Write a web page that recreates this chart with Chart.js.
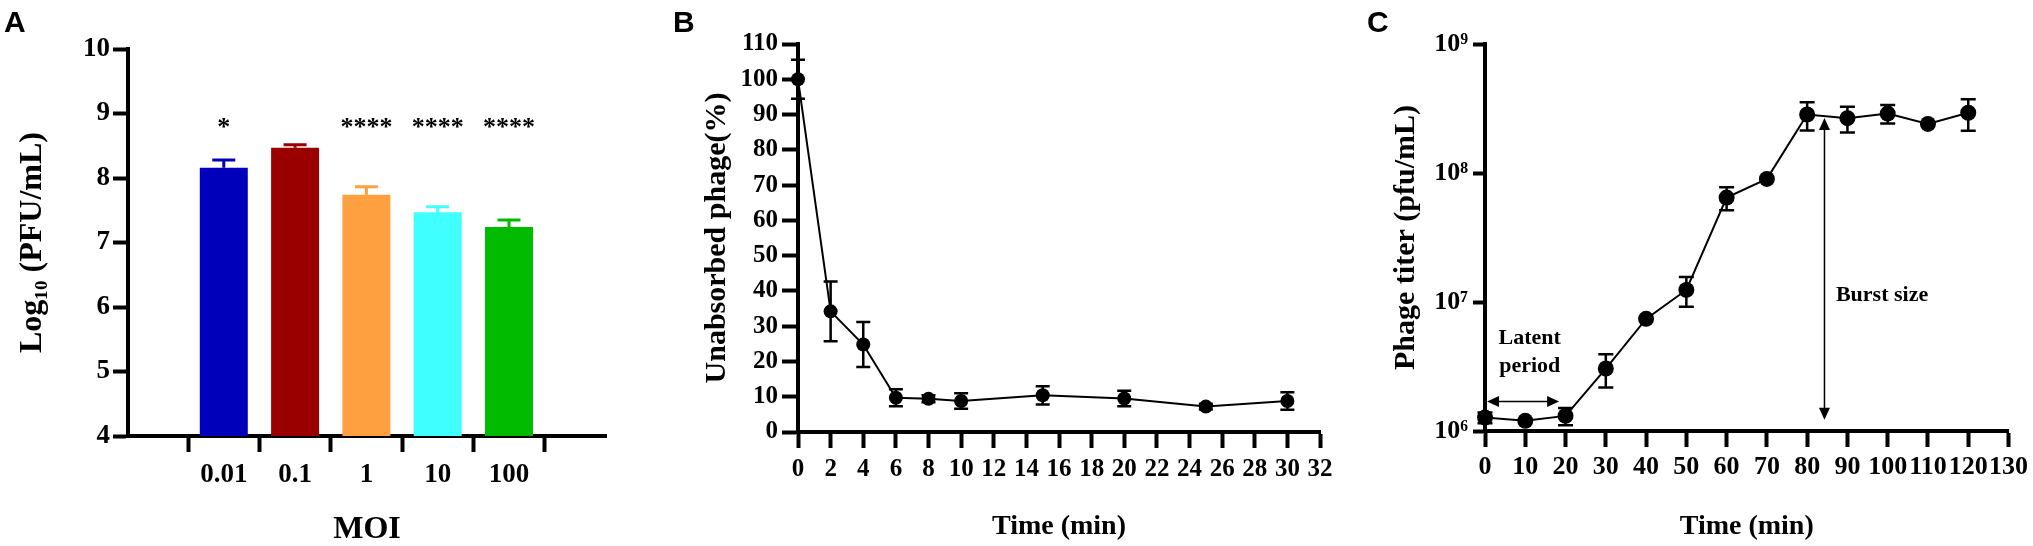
<!DOCTYPE html>
<html><head><meta charset="utf-8">
<script src="https://cdn.jsdelivr.net/npm/chart.js@4.4.1/dist/chart.umd.min.js"></script>
<style>
html,body{margin:0;padding:0;background:#fff;}
#wrap{position:relative;width:2033px;height:546px;overflow:hidden;background:#fff;}
canvas{position:absolute;top:0;}
.lbl{position:absolute;font-family:"Liberation Sans",Arial,sans-serif;font-weight:bold;font-size:30px;line-height:1;color:#000;}
</style></head><body>
<div id="wrap">
<canvas id="cA" width="640" height="546" style="left:0px"></canvas>
<canvas id="cB" width="700" height="546" style="left:640px"></canvas>
<canvas id="cC" width="693" height="546" style="left:1340px"></canvas>
<div class="lbl" style="left:4px;top:7px">A</div>
<div class="lbl" style="left:673px;top:7px">B</div>
<div class="lbl" style="left:1367px;top:7px">C</div>
</div>
<script>
// ---------- Panel A data ----------
const moiCategories = ['0.01', '0.1', '1', '10', '100'];
const moiLogTiter = [8.16, 8.47, 7.74, 7.47, 7.24];
const moiLogErr = [0.12, 0.045, 0.125, 0.085, 0.11];
const moiSignificance = ['*', '', '****', '****', '****'];
const moiColors = ['#0000BB', '#9B0000', '#FFA040', '#40FFFF', '#00BB00'];

// ---------- Panel B data ----------
const adsTime = [0, 2, 4, 6, 8, 10, 15, 20, 25, 30];
const adsUnabsorbed = [100, 34.2, 24.8, 9.7, 9.4, 8.8, 10.4, 9.5, 7.2, 8.8];
const adsErr = [5.5, 8.5, 6.4, 2.4, 1.0, 2.2, 2.6, 2.2, 0.8, 2.5];

// ---------- Panel C data ----------
const growthTime = [0, 10, 20, 30, 40, 50, 60, 70, 80, 90, 100, 110, 120];
const growthTiter = [1.27e6, 1.2e6, 1.31e6, 3.05e6, 7.4e6, 1.24e7, 6.45e7, 9.0e7, 2.84e8, 2.66e8, 2.89e8, 2.4e8, 2.93e8];
const growthErr = [0.12e6, 0, 0.2e6, 0.88e6, 0, 3.2e6, 1.3e7, 0, 7e7, 6e7, 4.7e7, 0, 8e7];
const growthYTicks = [1e6, 1e7, 1e8, 1e9];
const growthYTickLabels = ['10\u2076', '10\u2077', '10\u2078', '10\u2079'];

// annotation anchors (data coordinates)
const latentArrow = {from: 0.5, to: 18.4, level: 1.69e6};
const latentText = {x: 11.1, lines: ['Latent', 'period'], levels: [5.26e6, 3.19e6]};
const burstArrow = {x: 84.3, from: 1.22e6, to: 2.67e8};
const burstText = {x: 98.6, text: 'Burst size', level: 1.12e7};
const SIG_LEVEL = 8.67;

const SERIF = '"Liberation Serif","Times New Roman",serif';
Chart.defaults.font.family = SERIF;
Chart.defaults.color = '#000';

function axis(opts) {
  return Object.assign({
    border: {display: true, width: 4, color: '#000'},
    grid: {display: true, drawOnChartArea: false, drawTicks: true, tickLength: opts.tickLen, tickWidth: 4, tickColor: '#000'},
  }, opts.extra);
}
function tickFont(size) { return {family: SERIF, size: size, weight: 'bold'}; }

// ---------- Chart A ----------
const aPlugin = {
  id: 'aExtras',
  afterDatasetsDraw(chart) {
    const {ctx, scales: {x, y}} = chart;
    ctx.save();
    moiLogTiter.forEach((v, i) => {
      const px = x.getPixelForValue(i);
      const y0 = y.getPixelForValue(v);
      const y1 = y.getPixelForValue(v + moiLogErr[i]);
      ctx.strokeStyle = moiColors[i];
      ctx.lineWidth = 3;
      ctx.beginPath();
      ctx.moveTo(px, y0); ctx.lineTo(px, y1);
      ctx.moveTo(px - 11.5, y1); ctx.lineTo(px + 11.5, y1);
      ctx.stroke();
      if (moiSignificance[i]) {
        ctx.fillStyle = '#000';
        ctx.font = 'bold 26px ' + SERIF;
        ctx.textAlign = 'center';
        ctx.textBaseline = 'alphabetic';
        ctx.fillText(moiSignificance[i], px, y.getPixelForValue(SIG_LEVEL));
      }
    });
    ctx.restore();
  }
};

new Chart(document.getElementById('cA'), {
  type: 'bar',
  data: {
    datasets: [{
      data: moiLogTiter.map((v, i) => ({x: i, y: v})),
      backgroundColor: moiColors,
      borderWidth: 0,
      barPercentage: 0.673,
      categoryPercentage: 1.0
    }]
  },
  options: {
    responsive: false, animation: false, devicePixelRatio: 1,
    layout: {padding: {top: 49, right: 34, left: 0, bottom: 0}},
    plugins: {legend: {display: false}, tooltip: {enabled: false}},
    scales: {
      x: axis({tickLen: 16, extra: {
        type: 'linear', min: -0.673, max: 4.69,
        afterBuildTicks: s => { s.ticks = moiCategories.map((_, i) => ({value: i})); },
        afterFit: s => { s.height = 110; },
        ticks: {font: tickFont(27), padding: 7, maxRotation: 0, autoSkip: false,
                callback: v => moiCategories[v]},
        title: {display: true, text: 'MOI', font: {family: SERIF, size: 32, weight: 'bold', lineHeight: 1}, padding: {top: 0, bottom: 0}}
      }}),
      y: axis({tickLen: 15, extra: {
        type: 'linear', min: 4, max: 10,
        afterFit: s => { s.width = 128; },
        ticks: {stepSize: 1, font: tickFont(27), padding: 3},
        title: {display: true, text: 'Log\u2081\u2080 (PFU/mL)', font: {family: SERIF, size: 32, weight: 'bold'}, padding: {top: 14, bottom: 0}}
      }})
    }
  },
  plugins: [aPlugin]
});

// ---------- Error bar helper for B and C ----------
function errPlugin(id, xs, ys, errs, cap) {
  return {
    id: id,
    beforeDatasetsDraw(chart) {
      const {ctx, scales: {x, y}} = chart;
      ctx.save();
      ctx.strokeStyle = '#000';
      ctx.lineWidth = 2.5;
      xs.forEach((t, i) => {
        if (!errs[i]) return;
        const px = x.getPixelForValue(t);
        const yt = y.getPixelForValue(ys[i] + errs[i]);
        const yb = y.getPixelForValue(ys[i] - errs[i]);
        ctx.beginPath();
        ctx.moveTo(px, yt); ctx.lineTo(px, yb);
        ctx.moveTo(px - cap, yt); ctx.lineTo(px + cap, yt);
        ctx.moveTo(px - cap, yb); ctx.lineTo(px + cap, yb);
        ctx.stroke();
      });
      ctx.restore();
    }
  };
}

// ---------- Chart B ----------
new Chart(document.getElementById('cB'), {
  type: 'line',
  data: {
    datasets: [{
      data: adsTime.map((t, i) => ({x: t, y: adsUnabsorbed[i]})),
      borderColor: '#000', borderWidth: 2,
      pointRadius: 7, pointBackgroundColor: '#000', pointBorderWidth: 0,
      tension: 0, clip: false
    }]
  },
  options: {
    responsive: false, animation: false, devicePixelRatio: 1,
    layout: {padding: {top: 44, right: 20, left: 0, bottom: 0}},
    plugins: {legend: {display: false}, tooltip: {enabled: false}},
    scales: {
      x: axis({tickLen: 16, extra: {
        type: 'linear', min: 0, max: 32,
        afterFit: s => { s.height = 114; },
        ticks: {stepSize: 2, font: tickFont(25), padding: 7, maxRotation: 0, minRotation: 0, autoSkip: false},
        title: {display: true, text: 'Time (min)', font: {family: SERIF, size: 28, weight: 'bold', lineHeight: 1}, padding: {top: 0, bottom: 5}}
      }}),
      y: axis({tickLen: 16, extra: {
        type: 'linear', min: 0, max: 110,
        afterFit: s => { s.width = 158; },
        ticks: {stepSize: 10, font: tickFont(25), padding: 4},
        title: {display: true, text: 'Unabsorbed phage(%)', font: {family: SERIF, size: 30, weight: 'bold'}, padding: {top: 59, bottom: 0}}
      }})
    }
  },
  plugins: [errPlugin('bErr', adsTime, adsUnabsorbed, adsErr, 7)]
});

// ---------- Chart C ----------
function arrowHead(ctx, x, y, dx, dy, len, half) {
  // tip at (x,y), direction (dx,dy) unit vector pointing toward the tip
  const bx = x - dx * len, by = y - dy * len;
  ctx.beginPath();
  ctx.moveTo(x, y);
  ctx.lineTo(bx - dy * half, by + dx * half);
  ctx.lineTo(bx + dy * half, by - dx * half);
  ctx.closePath();
  ctx.fill();
}
const cAnnot = {
  id: 'cAnnot',
  afterDatasetsDraw(chart) {
    const {ctx, scales: {x, y}} = chart;
    ctx.save();
    ctx.strokeStyle = '#000'; ctx.fillStyle = '#000'; ctx.lineWidth = 1.5;
    // latent period double arrow
    const lx0 = x.getPixelForValue(latentArrow.from), lx1 = x.getPixelForValue(latentArrow.to);
    const ly = y.getPixelForValue(latentArrow.level);
    ctx.beginPath(); ctx.moveTo(lx0 + 8, ly); ctx.lineTo(lx1 - 8, ly); ctx.stroke();
    arrowHead(ctx, lx0, ly, -1, 0, 12, 5.5);
    arrowHead(ctx, lx1, ly, 1, 0, 12, 5.5);
    // burst size double arrow
    const bx = x.getPixelForValue(burstArrow.x);
    const by0 = y.getPixelForValue(burstArrow.from), by1 = y.getPixelForValue(burstArrow.to);
    ctx.beginPath(); ctx.moveTo(bx, by0 - 8); ctx.lineTo(bx, by1 + 8); ctx.stroke();
    arrowHead(ctx, bx, by0, 0, 1, 12, 5.5);
    arrowHead(ctx, bx, by1, 0, -1, 12, 5.5);
    // texts
    ctx.font = 'bold 22px ' + SERIF;
    ctx.textAlign = 'center'; ctx.textBaseline = 'middle';
    latentText.lines.forEach((t, i) => ctx.fillText(t, x.getPixelForValue(latentText.x), y.getPixelForValue(latentText.levels[i])));
    ctx.fillText(burstText.text, x.getPixelForValue(burstText.x), y.getPixelForValue(burstText.level));
    ctx.restore();
  }
};

new Chart(document.getElementById('cC'), {
  type: 'line',
  data: {
    datasets: [{
      data: growthTime.map((t, i) => ({x: t, y: growthTiter[i]})),
      borderColor: '#000', borderWidth: 2,
      pointRadius: 8, pointBackgroundColor: '#000', pointBorderWidth: 0,
      tension: 0, clip: false
    }]
  },
  options: {
    responsive: false, animation: false, devicePixelRatio: 1,
    layout: {padding: {top: 44, right: 24, left: 0, bottom: 0}},
    plugins: {legend: {display: false}, tooltip: {enabled: false}},
    scales: {
      x: axis({tickLen: 16, extra: {
        type: 'linear', min: 0, max: 130,
        afterFit: s => { s.height = 115; },
        ticks: {stepSize: 10, font: tickFont(26), padding: 5, maxRotation: 0, minRotation: 0, autoSkip: false},
        title: {display: true, text: 'Time (min)', font: {family: SERIF, size: 28, weight: 'bold', lineHeight: 1}, padding: {top: 0, bottom: 5}}
      }}),
      y: axis({tickLen: 12, extra: {
        type: 'logarithmic', min: 1e6, max: 1e9,
        afterBuildTicks: s => { s.ticks = growthYTicks.map(v => ({value: v})); },
        afterFit: s => { s.width = 145; },
        ticks: {font: tickFont(26), padding: 5, autoSkip: false,
                callback: v => growthYTickLabels[growthYTicks.indexOf(v)]},
        title: {display: true, text: 'Phage titer (pfu/mL)', font: {family: SERIF, size: 30, weight: 'bold'}, padding: {top: 48, bottom: 0}}
      }})
    }
  },
  plugins: [errPlugin('cErr', growthTime, growthTiter, growthErr, 7.5), cAnnot]
});
</script>
</body></html>
